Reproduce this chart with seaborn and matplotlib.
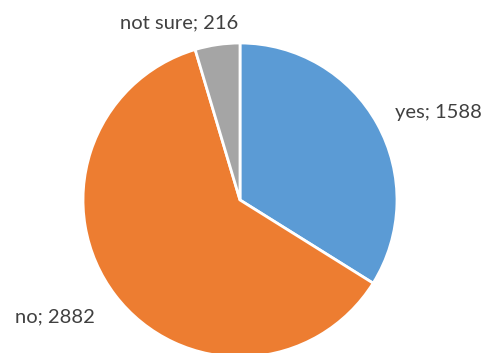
import matplotlib
matplotlib.use("Agg")
import matplotlib.pyplot as plt
import seaborn as sns

sns.set_theme(style="white")
plt.rcParams["font.family"] = ["Lato", "DejaVu Sans"]

categories = ["yes", "no", "not sure"]
counts = [1588, 2882, 216]
colors = ["#5B9BD5", "#ED7D31", "#A5A5A5"]

# label anchor points (center x, baseline y) in pie units (radius = 1)
label_pos = [(1.261, 0.522), (-1.178, -0.777), (-0.389, 1.096)]

fig = plt.figure(figsize=(4.88, 3.53), dpi=100)
ax = fig.add_axes([0.1701, -0.0113, 0.6434, 0.8895])
ax.pie(counts, colors=colors, startangle=90, counterclock=False,
       radius=1.0, wedgeprops=dict(edgecolor="white", linewidth=2))
ax.set_xlim(-1, 1)
ax.set_ylim(-1, 1)
ax.set_aspect("equal")
ax.axis("off")

for cat, n, (x, y) in zip(categories, counts, label_pos):
    ax.text(x, y, f"{cat}; {n}", ha="center", va="baseline",
            fontsize=14.5, color="#404040", clip_on=False)

fig.savefig("out.png", dpi=100, facecolor="white")
